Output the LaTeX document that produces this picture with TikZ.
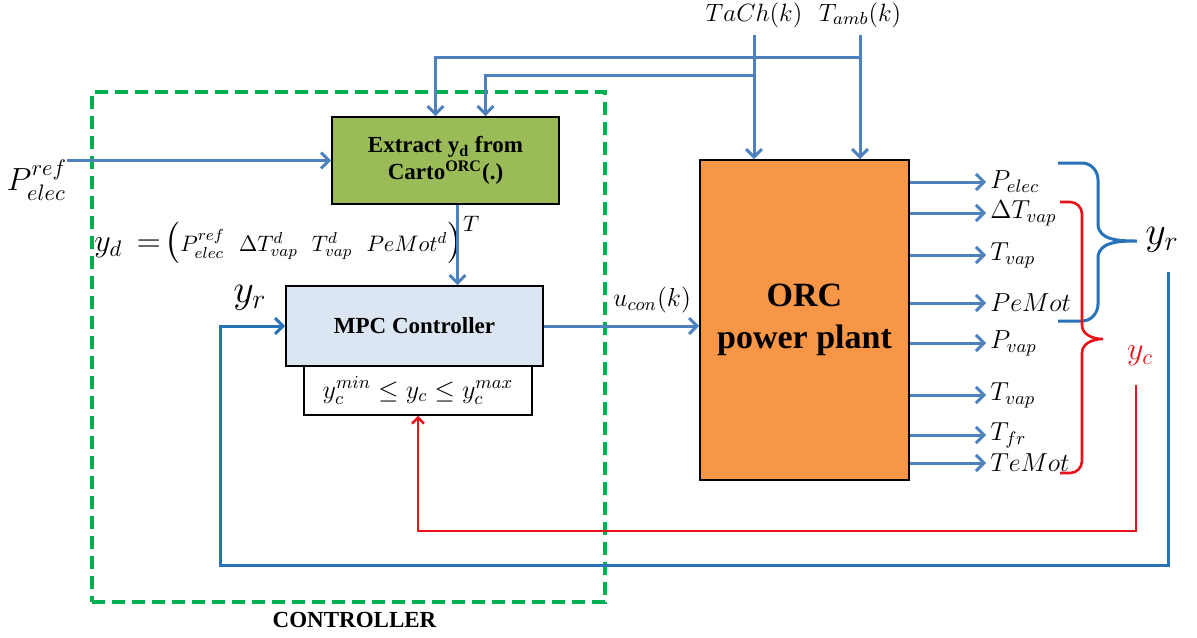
\RequirePackage{fix-cm}
\documentclass[tikz,border=0pt]{standalone}
\usepackage{amsmath}
\usepackage{fontspec}
\setmainfont{Liberation Serif}
\usepackage{tikz}
\usetikzlibrary{positioning}
\usetikzlibrary{arrows.meta}
\definecolor{sigblue}{RGB}{79,129,189}
\definecolor{loopblue}{RGB}{40,114,186}
\definecolor{ctrlred}{RGB}{232,18,24}
\definecolor{ctrlgreen}{RGB}{0,176,80}
\definecolor{orcorange}{RGB}{247,150,70}
\definecolor{cartogreen}{RGB}{155,187,89}
\definecolor{mpcblue}{RGB}{220,230,242}
\tikzset{sig/.style = {color=sigblue, line width=1.5pt,
                       -{Straight Barb[length=4pt,width=8pt]}}}
\tikzset{fbblue/.style = {color=loopblue, line width=1.5pt}}
\tikzset{fbredline/.style = {color=ctrlred, line width=1.3pt}}
\tikzset{block/.style = {draw, line width=0.8pt, align=center, inner sep=0}}
\tikzset{boldtxt/.style = {font=\fontsize{11.5}{13.5}\selectfont\bfseries}}
\tikzset{outlab/.style = {anchor=west, inner sep=2pt, font=\fontsize{13}{15}\selectfont}}

\begin{document}
\begin{tikzpicture}[x=0.5pt, y=-0.5pt]
    \useasboundingbox (0,0) rectangle (1197,637);

    % controller frame
    \node[draw=ctrlgreen, line width=2pt, dash pattern=on 6.5pt off 3.5pt,
          minimum width=256.5pt, minimum height=255pt, inner sep=0] (ctrl) at (348.5,347) {};
    \node[below=4pt of ctrl, xshift=3pt, inner sep=0, font=\fontsize{11.5}{13}\selectfont\bfseries] (ctrllab) {CONTROLLER};

    \node[block, fill=cartogreen, minimum width=113.5pt, minimum height=43.5pt, boldtxt] (extract) at (445.5,160.5)
        {Extract y\textsubscript{d} from\\Carto\textsuperscript{ORC}(.)};
    \node[block, fill=mpcblue, minimum width=128.5pt, minimum height=40pt, boldtxt] (mpc) at (414.5,326) {MPC Controller};
    \node[block, fill=white, minimum width=114pt, minimum height=24.5pt, font=\fontsize{13}{15}\selectfont] (cons) at (418,390.5)
        {$y_c^{min}\leq y_c\leq y_c^{max}$};
    \node[block, fill=orcorange, minimum width=104.5pt, minimum height=160pt,
          font=\fontsize{17}{21}\selectfont\bfseries] (orc) at (804.5,320) {ORC\\power plant};

    % disturbances
    \node[font=\fontsize{12.5}{15}\selectfont] (tach) at (754,15) {$TaCh(k)$};
    \node[font=\fontsize{12.5}{15}\selectfont] (tamb) at (860,15) {$T_{amb}(k)$};
    \coordinate (tap1) at (860,57);
    \coordinate (tap2) at (754,75);
    \draw[sig] (tach.south) -- (tach.south |- orc.north);
    \draw[sig] (tamb.south) -- (tamb.south |- orc.north);
    \draw[sig] (tap1) -| ([xshift=-5pt]extract.north);
    \draw[sig] (tap2) -| ([xshift=20pt]extract.north);

    % reference
    \node[inner sep=0, font=\fontsize{16}{19}\selectfont] (pref) at (37,180) {$P_{elec}^{ref}$};
    \draw[sig] (pref.east |- extract.west) -- (extract.west);
    \node[anchor=west, inner sep=0, font=\fontsize{16}{19}\selectfont] (yd) at (94,240)
        {$y_d\,=\!\bigl({\scriptstyle P^{ref}_{elec}\hspace{7pt}\Delta T^d_{vap}\hspace{7pt}T^d_{vap}\hspace{7pt}PeMot^d}\bigr)^{T}$};
    \draw[sig] ([xshift=6pt]extract.south) -- ([xshift=6pt]extract.south |- mpc.north);
    \node[font=\fontsize{20}{24}\selectfont] (yrin) at (250,298) {$y_r$};

    % control input
    \draw[sig] (mpc.east) -- (mpc.east -| orc.west);
    \node[font=\fontsize{13}{15}\selectfont] (ucon) at (652,300) {$u_{con}(k)$};

    % outputs
    \node[outlab] (pelec) at (986,182) {$P_{elec}$};
    \node[outlab] (dtvap) at (986,213) {$\Delta T_{vap}$};
    \node[outlab] (tvap) at (986,255) {$T_{vap}$};
    \node[outlab] (pemot) at (986,303) {$PeMot$};
    \node[outlab] (pvap) at (986,343) {$P_{vap}$};
    \node[outlab] (tvapb) at (986,395) {$T_{vap}$};
    \node[outlab] (tfr) at (986,435) {$T_{fr}$};
    \node[outlab] (temot) at (986,463) {$TeMot$};
    \draw[sig] (pelec.west -| orc.east) -- (pelec.west);
    \draw[sig] (dtvap.west -| orc.east) -- (dtvap.west);
    \draw[sig] (tvap.west -| orc.east) -- (tvap.west);
    \draw[sig] (pemot.west -| orc.east) -- (pemot.west);
    \draw[sig] (pvap.west -| orc.east) -- (pvap.west);
    \draw[sig] (tvapb.west -| orc.east) -- (tvapb.west);
    \draw[sig] (tfr.west -| orc.east) -- (tfr.west);
    \draw[sig] (temot.west -| orc.east) -- (temot.west);

    % braces
    \draw[fbblue] (1058,163) -- (1082,163) to[out=0,in=90] (1098,180) -- (1098,224)
        to[out=-90,in=180] (1137,241) to[out=180,in=90] (1098,258) -- (1098,304)
        to[out=-90,in=0] (1082,321) -- (1058,321);
    \node[font=\fontsize{20}{24}\selectfont] (yr) at (1162,240) {$y_r$};
    \draw[fbredline] (1060,202) -- (1070,202) to[out=0,in=90] (1082,214) -- (1082,325)
        to[out=-90,in=180] (1103,339) to[out=180,in=90] (1082,353) -- (1082,461)
        to[out=-90,in=0] (1070,473) -- (1060,473);
    \node[ctrlred, font=\fontsize{16}{19}\selectfont] (yc) at (1140,356) {$y_c$};

    % feedback
    \coordinate (yrtop) at (1168,272);
    \coordinate (yrbot) at (1168,565);
    \coordinate (yrleft) at (220,565);
    \draw[fbblue, -{Straight Barb[length=4pt,width=8pt]}] (yrtop) -- (yrbot) -- (yrleft) |- (mpc.west);
    \coordinate (yctop) at (1136,385);
    \coordinate (ycbot) at (1136,531);
    \draw[fbredline, -{Straight Barb[length=3pt,width=6pt]}] (yctop) -- (ycbot) -| (cons.south);
\end{tikzpicture}
\end{document}
